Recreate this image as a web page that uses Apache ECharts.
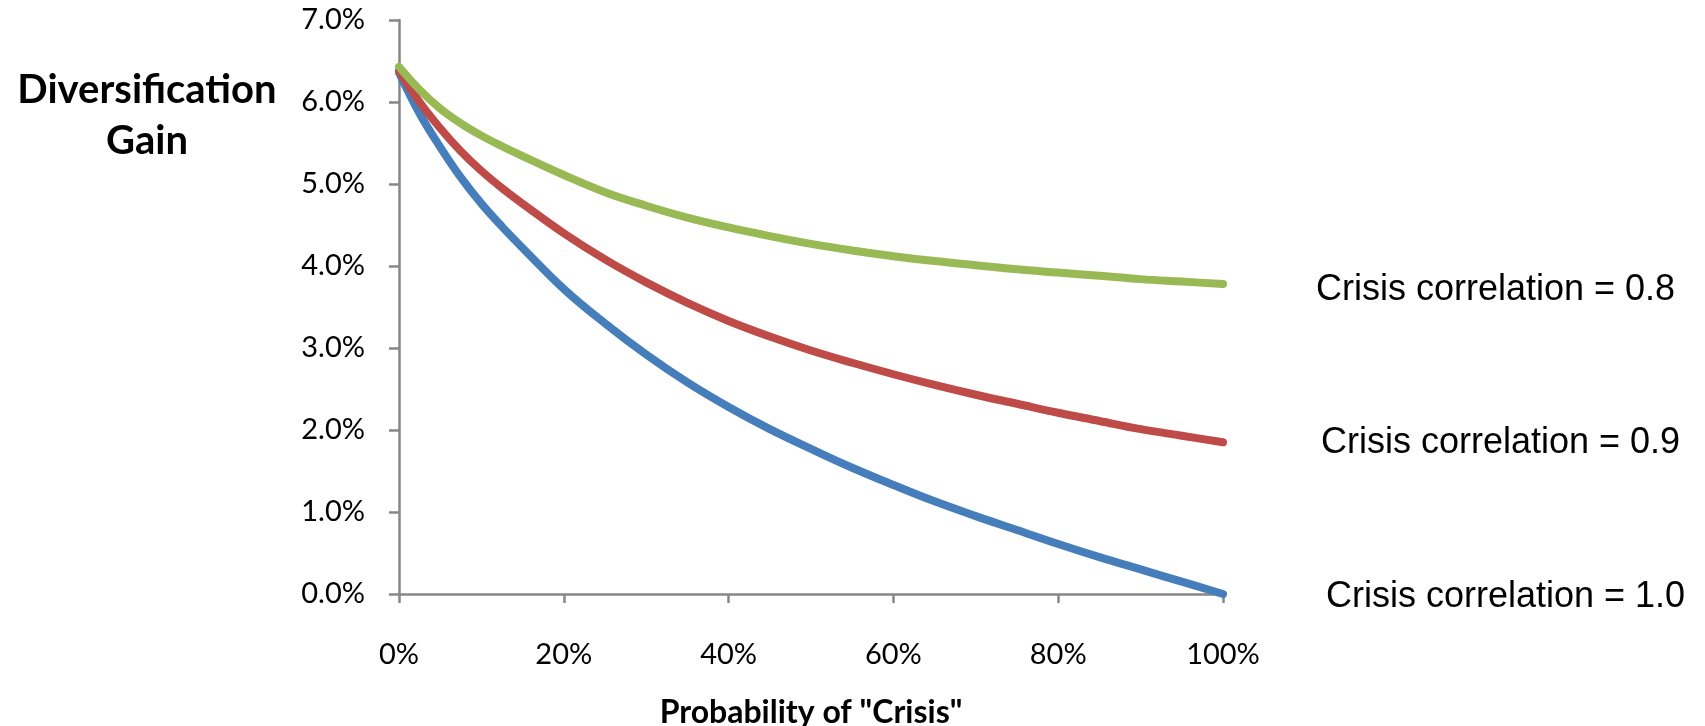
<!DOCTYPE html>
<html>
<head>
<meta charset="utf-8">
<script src="https://cdn.jsdelivr.net/npm/echarts@6/dist/echarts.min.js"></script>
<style>
html,body{margin:0;padding:0;background:#fff;}
#c{width:1705px;height:726px;}
</style>
</head>
<body>
<div id="c"></div>
<script>
// Probability of "Crisis" (%)
var probability = [0,2.5,5,7.5,10,12.5,15,20,25,30,35,40,45,50,55,60,65,70,75,80,85,90,95,100];
// Diversification gain (%)
var gainCorr10 = [6.36,5.86,5.45,5.08,4.76,4.48,4.22,3.72,3.30,2.92,2.58,2.28,2.01,1.77,1.54,1.33,1.13,0.95,0.78,0.61,0.45,0.30,0.15,0.00];
var gainCorr09 = [6.38,6.00,5.68,5.40,5.16,4.95,4.76,4.40,4.08,3.80,3.55,3.33,3.14,2.97,2.82,2.68,2.55,2.43,2.32,2.21,2.11,2.01,1.93,1.85];
var gainCorr08 = [6.43,6.15,5.92,5.74,5.59,5.46,5.34,5.11,4.90,4.735,4.59,4.47,4.365,4.27,4.19,4.12,4.06,4.01,3.96,3.92,3.88,3.84,3.81,3.78];
var seriesNames = ['Crisis correlation = 1.0','Crisis correlation = 0.9','Crisis correlation = 0.8'];
var xTicks = [0,20,40,60,80,100];
var yTicks = [0,1,2,3,4,5,6,7];

function pairs(ys){ return probability.map(function(p,i){ return [p, ys[i]]; }); }

var chart = echarts.init(document.getElementById('c'), null, {renderer:'canvas'});
var axisGray = '#878787';
function mkSeries(name, ys, color, off){
  return {
    type:'line', name:name, data:pairs(ys), smooth:0.4, symbol:'none',
    lineStyle:{color:color, width:8, cap:'round', join:'round'},
    itemStyle:{color:color},
    endLabel:{show:true, formatter:name, color:'#000', fontFamily:'"Liberation Sans", Arial, sans-serif',
      fontSize:36, distance:93, offset:off},
    emphasis:{disabled:true}, silent:true
  };
}
chart.setOption({
  animation:false,
  grid:{left:399, right:482, top:20, bottom:132, containLabel:false, outerBoundsMode:'none'},
  xAxis:{
    type:'value', min:0, max:100, interval:20,
    name:'Probability of "Crisis"', nameLocation:'middle', nameGap:103,
    nameTextStyle:{fontFamily:'Lato, sans-serif', fontWeight:'bold', fontSize:32, color:'#000'},
    axisLine:{show:true, onZero:false, lineStyle:{color:axisGray, width:2.5}},
    axisTick:{show:true, length:9, lineStyle:{color:axisGray, width:2.5}},
    splitLine:{show:false},
    axisLabel:{margin:46, fontFamily:'Lato, sans-serif', fontSize:29, color:'#000',
      formatter:function(v){ return xTicks.indexOf(v) >= 0 ? v + '%' : ''; }}
  },
  yAxis:{
    type:'value', min:0, max:7, interval:1,
    axisLine:{show:true, lineStyle:{color:axisGray, width:2.5}},
    axisTick:{show:true, length:10, lineStyle:{color:axisGray, width:2.5}},
    splitLine:{show:false},
    axisLabel:{margin:34, fontFamily:'Lato, sans-serif', fontSize:29, color:'#000',
      formatter:function(v){ return yTicks.indexOf(v) >= 0 ? v.toFixed(1) + '%' : ''; }}
  },
  title:{
    text:'Diversification\nGain', left:142, top:60, textAlign:'center',
    textStyle:{fontFamily:'Lato, sans-serif', fontWeight:'bold', fontSize:40, lineHeight:51, color:'#000'}
  },
  series:[
    mkSeries(seriesNames[0], gainCorr10, '#467DBB', [10,3]),
    mkSeries(seriesNames[1], gainCorr09, '#BE4B48', [5,1]),
    mkSeries(seriesNames[2], gainCorr08, '#98B954', [0,6])
  ]
});
</script>
</body>
</html>
